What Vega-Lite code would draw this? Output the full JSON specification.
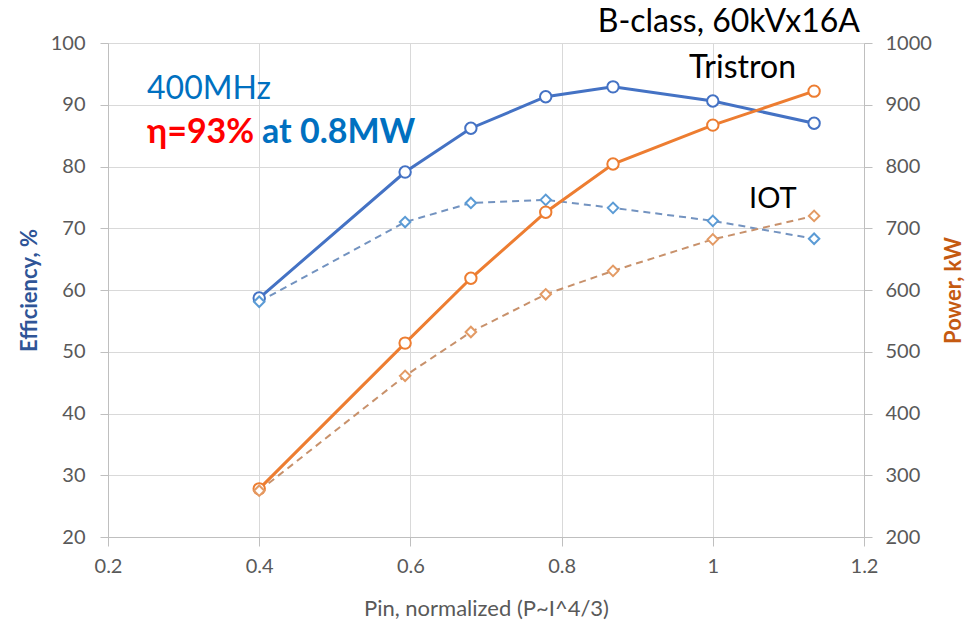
{
  "$schema": "https://vega.github.io/schema/vega-lite/v6.json",
  "width": 756,
  "height": 494,
  "autosize": "none",
  "padding": {"left": 108, "top": 43, "right": 102, "bottom": 84},
  "background": "white",
  "config": {
    "view": {"stroke": null},
    "font": "Lato",
    "axis": {
      "labelFont": "Lato",
      "titleFont": "Lato",
      "labelColor": "#595959",
      "labelFontSize": 20,
      "labelFlush": false,
      "labelOverlap": false,
      "gridColor": "#D9D9D9",
      "domainColor": "#BFBFBF",
      "tickColor": "#BFBFBF",
      "tickSize": 8
    }
  },
  "datasets": {
    "series": [
      {"pin": 0.4, "device": "Tristron", "eff": 58.7, "power": 278},
      {"pin": 0.593, "device": "Tristron", "eff": 79.1, "power": 514},
      {"pin": 0.68, "device": "Tristron", "eff": 86.2, "power": 619},
      {"pin": 0.779, "device": "Tristron", "eff": 91.3, "power": 726},
      {"pin": 0.868, "device": "Tristron", "eff": 92.9, "power": 804},
      {"pin": 1.0, "device": "Tristron", "eff": 90.6, "power": 867},
      {"pin": 1.134, "device": "Tristron", "eff": 87.0, "power": 922},
      {"pin": 0.4, "device": "IOT", "eff": 58.1, "power": 275},
      {"pin": 0.593, "device": "IOT", "eff": 71.0, "power": 461},
      {"pin": 0.68, "device": "IOT", "eff": 74.1, "power": 532},
      {"pin": 0.779, "device": "IOT", "eff": 74.6, "power": 593},
      {"pin": 0.868, "device": "IOT", "eff": 73.3, "power": 631},
      {"pin": 1.0, "device": "IOT", "eff": 71.2, "power": 682},
      {"pin": 1.134, "device": "IOT", "eff": 68.3, "power": 720}
    ],
    "notes": [
      {"id": "freq", "label": "400MHz", "ax": 0.2516, "ay": 90.9},
      {"id": "eta", "label": "η=93%", "ax": 0.2516, "ay": 83.8},
      {"id": "at", "label": "at 0.8MW", "ax": 0.4037, "ay": 83.8},
      {"id": "class", "label": "B-class, 60kVx16A", "ax": 1.1947, "ay": 101.8},
      {"id": "tri", "label": "Tristron", "ax": 0.9685, "ay": 94.33},
      {"id": "iot", "label": "IOT", "ax": 1.0479, "ay": 73.3}
    ]
  },
  "layer": [
    {
      "data": {"name": "series"},
      "layer": [
        {
          "transform": [{"filter": "datum.device === 'Tristron'"}],
          "mark": {"type": "line", "color": "#4472C4", "strokeWidth": 3},
          "encoding": {
            "x": {
              "field": "pin", "type": "quantitative",
              "scale": {"domain": [0.2, 1.2], "nice": false, "zero": false},
              "axis": {
                "values": [0.2, 0.4, 0.6, 0.8, 1, 1.2],
                "format": "~g",
                "grid": true,
                "tickSize": 9,
                "labelPadding": 10,
                "title": "Pin, normalized (P~I^4/3)",
                "titleColor": "#595959",
                "titleFontSize": 22,
                "titleFontWeight": "normal",
                "titleY": 71,
                "titleBaseline": "middle"
              }
            },
            "y": {
              "field": "eff", "type": "quantitative",
              "scale": {"domain": [20, 100], "nice": false, "zero": false},
              "axis": {
                "orient": "left",
                "values": [20, 30, 40, 50, 60, 70, 80, 90, 100],
                "grid": true,
                "labelPadding": 15,
                "title": "Efficiency, %",
                "titleColor": "#2F5597",
                "titleFontSize": 22,
                "titleFontWeight": "bold",
                "titleAngle": -90,
                "titleX": -79,
                "titleY": 247,
                "titleAlign": "center",
                "titleBaseline": "middle"
              }
            }
          }
        },
        {
          "transform": [{"filter": "datum.device === 'IOT'"}],
          "mark": {"type": "line", "color": "#7393C0", "strokeWidth": 2, "strokeDash": [7, 5]},
          "encoding": {
            "x": {"field": "pin", "type": "quantitative"},
            "y": {"field": "eff", "type": "quantitative"}
          }
        },
        {
          "transform": [{"filter": "datum.device === 'Tristron'"}],
          "mark": {"type": "point", "shape": "circle", "filled": true, "fill": "white", "stroke": "#4472C4", "strokeWidth": 2, "size": 130, "opacity": 1},
          "encoding": {
            "x": {"field": "pin", "type": "quantitative"},
            "y": {"field": "eff", "type": "quantitative"}
          }
        },
        {
          "transform": [{"filter": "datum.device === 'IOT'"}],
          "mark": {"type": "point", "shape": "diamond", "filled": true, "fill": "white", "stroke": "#5B9BD5", "strokeWidth": 2, "size": 110, "opacity": 1},
          "encoding": {
            "x": {"field": "pin", "type": "quantitative"},
            "y": {"field": "eff", "type": "quantitative"}
          }
        },
        {
          "data": {"name": "notes"},
          "transform": [{"filter": "datum.id === 'freq'"}],
          "mark": {"type": "text", "align": "left", "baseline": "alphabetic", "font": "Lato", "fontSize": 32, "color": "#0070C0"},
          "encoding": {
            "x": {"field": "ax", "type": "quantitative"},
            "y": {"field": "ay", "type": "quantitative"},
            "text": {"field": "label"}
          }
        },
        {
          "data": {"name": "notes"},
          "transform": [{"filter": "datum.id === 'eta'"}],
          "mark": {"type": "text", "align": "left", "baseline": "alphabetic", "font": "Lato", "fontSize": 34, "fontWeight": "bold", "color": "#FF0000"},
          "encoding": {
            "x": {"field": "ax", "type": "quantitative"},
            "y": {"field": "ay", "type": "quantitative"},
            "text": {"field": "label"}
          }
        },
        {
          "data": {"name": "notes"},
          "transform": [{"filter": "datum.id === 'at'"}],
          "mark": {"type": "text", "align": "left", "baseline": "alphabetic", "font": "Lato", "fontSize": 34, "fontWeight": "bold", "color": "#0070C0"},
          "encoding": {
            "x": {"field": "ax", "type": "quantitative"},
            "y": {"field": "ay", "type": "quantitative"},
            "text": {"field": "label"}
          }
        },
        {
          "data": {"name": "notes"},
          "transform": [{"filter": "datum.id === 'class'"}],
          "mark": {"type": "text", "align": "right", "baseline": "alphabetic", "font": "Lato", "fontSize": 32, "color": "#000000"},
          "encoding": {
            "x": {"field": "ax", "type": "quantitative"},
            "y": {"field": "ay", "type": "quantitative"},
            "text": {"field": "label"}
          }
        },
        {
          "data": {"name": "notes"},
          "transform": [{"filter": "datum.id === 'tri'"}],
          "mark": {"type": "text", "align": "left", "baseline": "alphabetic", "font": "Lato", "fontSize": 32, "color": "#000000"},
          "encoding": {
            "x": {"field": "ax", "type": "quantitative"},
            "y": {"field": "ay", "type": "quantitative"},
            "text": {"field": "label"}
          }
        },
        {
          "data": {"name": "notes"},
          "transform": [{"filter": "datum.id === 'iot'"}],
          "mark": {"type": "text", "align": "left", "baseline": "alphabetic", "font": "Lato", "fontSize": 29, "color": "#000000"},
          "encoding": {
            "x": {"field": "ax", "type": "quantitative"},
            "y": {"field": "ay", "type": "quantitative"},
            "text": {"field": "label"}
          }
        }
      ]
    },
    {
      "data": {"name": "series"},
      "layer": [
        {
          "transform": [{"filter": "datum.device === 'Tristron'"}],
          "mark": {"type": "line", "color": "#ED7D31", "strokeWidth": 3},
          "encoding": {
            "x": {"field": "pin", "type": "quantitative"},
            "y": {
              "field": "power", "type": "quantitative",
              "scale": {"domain": [200, 1000], "nice": false, "zero": false},
              "axis": {
                "orient": "right",
                "values": [200, 300, 400, 500, 600, 700, 800, 900, 1000],
                "format": "d",
                "grid": false,
                "labelPadding": 13,
                "title": "Power, kW",
                "titleColor": "#C55A11",
                "titleFontSize": 22,
                "titleFontWeight": "bold",
                "titleAngle": -90,
                "titleX": 89,
                "titleY": 247,
                "titleAlign": "center",
                "titleBaseline": "middle"
              }
            }
          }
        },
        {
          "transform": [{"filter": "datum.device === 'IOT'"}],
          "mark": {"type": "line", "color": "#C8916B", "strokeWidth": 2, "strokeDash": [7, 5]},
          "encoding": {
            "x": {"field": "pin", "type": "quantitative"},
            "y": {"field": "power", "type": "quantitative"}
          }
        },
        {
          "transform": [{"filter": "datum.device === 'Tristron'"}],
          "mark": {"type": "point", "shape": "circle", "filled": true, "fill": "white", "stroke": "#ED7D31", "strokeWidth": 2, "size": 130, "opacity": 1},
          "encoding": {
            "x": {"field": "pin", "type": "quantitative"},
            "y": {"field": "power", "type": "quantitative"}
          }
        },
        {
          "transform": [{"filter": "datum.device === 'IOT'"}],
          "mark": {"type": "point", "shape": "diamond", "filled": true, "fill": "white", "stroke": "#E39A64", "strokeWidth": 2, "size": 110, "opacity": 1},
          "encoding": {
            "x": {"field": "pin", "type": "quantitative"},
            "y": {"field": "power", "type": "quantitative"}
          }
        }
      ]
    }
  ],
  "resolve": {"scale": {"y": "independent"}}
}
